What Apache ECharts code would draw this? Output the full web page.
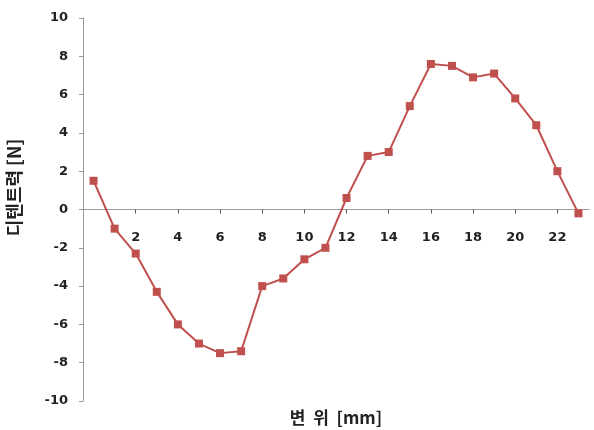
<!DOCTYPE html>
<html>
<head>
<meta charset="utf-8">
<script src="https://cdn.jsdelivr.net/npm/echarts@6/dist/echarts.min.js"></script>
<style>html,body{margin:0;padding:0;background:#fff;}#c{width:594px;height:430px;}</style>
</head>
<body>
<div id="c"></div>
<script>
var categories = ['0','1','2','3','4','5','6','7','8','9','10','11','12','13','14','15','16','17','18','19','20','21','22','23'];
var detentForce = [1.5, -1.0, -2.3, -4.3, -6.0, -7.0, -7.5, -7.4, -4.0, -3.6, -2.6, -2.0, 0.6, 2.8, 3.0, 5.4, 7.6, 7.5, 6.9, 7.1, 5.8, 4.4, 2.0, -0.2];
var xTitle = '변  위  [mm]';
var yTitle = '디텐트력 [N]';

var chart = echarts.init(document.getElementById('c'));
var labelFont = {color:'#222', fontWeight:'bold', fontSize:13, fontFamily:'DejaVu Sans'};
chart.setOption({
  animation:false,
  grid:{left:83, right:5, top:18, bottom:29, containLabel:false, outerBoundsMode:'none'},
  xAxis:{
    type:'category',
    data:categories,
    boundaryGap:true,
    name:xTitle,
    nameLocation:'middle',
    nameGap:8,
    nameTextStyle:{color:'#222', fontWeight:'bold', fontSize:17, fontFamily:'Noto Sans CJK KR'},
    axisLine:{onZero:true, lineStyle:{color:'#9a9a9a', width:1}},
    axisTick:{show:true, alignWithLabel:true, length:4, lineStyle:{color:'#555'},
      interval:function(i){return i>0 && i%2===0;}},
    axisLabel:Object.assign({margin:-170, interval:function(i){return i>0 && i%2===0;}}, labelFont),
    splitLine:{show:false}
  },
  yAxis:{
    type:'value',
    min:-10, max:10, interval:2,
    name:yTitle,
    nameLocation:'middle',
    nameGap:60,
    nameRotate:90,
    nameTextStyle:{color:'#222', fontWeight:'bold', fontSize:18, fontFamily:'Noto Sans CJK KR', padding:[0,0,0,44]},
    axisLine:{show:true, lineStyle:{color:'#9a9a9a', width:1}},
    axisTick:{show:true, length:4, lineStyle:{color:'#9a9a9a'}},
    axisLabel:Object.assign({margin:15}, labelFont),
    splitLine:{show:false}
  },
  series:[{
    type:'line',
    data:detentForce,
    symbol:'rect',
    symbolSize:8,
    lineStyle:{color:'#c0504d', width:2},
    itemStyle:{color:'#c0504d'}
  }]
});
</script>
</body>
</html>
